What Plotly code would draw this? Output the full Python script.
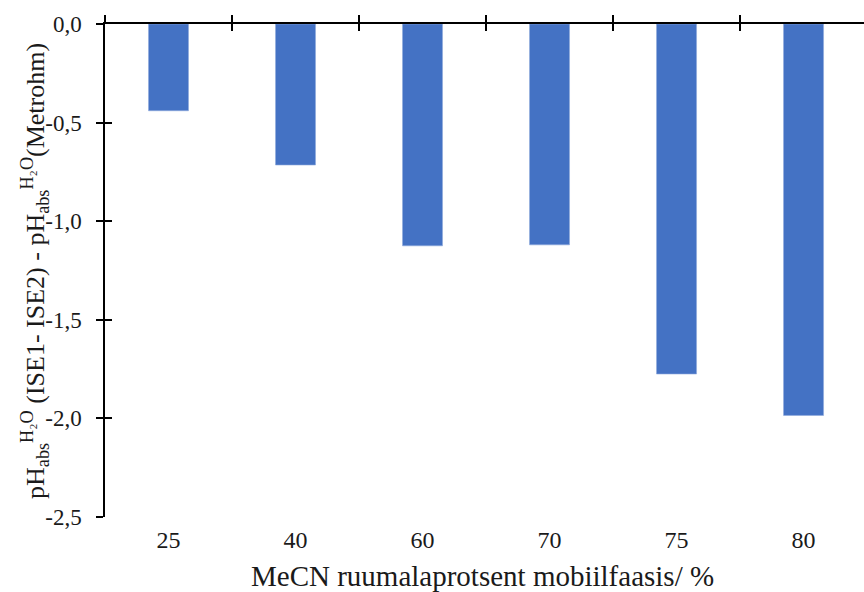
import plotly.graph_objects as go

# MeCN volume percent in the mobile phase
categories = ["25", "40", "60", "70", "75", "80"]
# pH difference: ISE1-ISE2 cell vs. Metrohm reference
values = [-0.44, -0.715, -1.125, -1.12, -1.775, -1.985]

y_tickvals = [0.0, -0.5, -1.0, -1.5, -2.0, -2.5]
y_ticktext = ["0,0", "-0,5", "-1,0", "-1,5", "-2,0", "-2,5"]

FONT = "Liberation Serif"
TXT = "#1a1a1a"
BAR = "#4472C4"

fig = go.Figure()
fig.add_trace(go.Bar(
    x=categories, y=values, xaxis="x", yaxis="y",
    marker=dict(color=BAR, line=dict(color="#8eaadb", width=0.6)),
    width=0.315, showlegend=False, hoverinfo="x+y",
))
# helper traces so the overlaid tick axes are drawn
fig.add_trace(go.Scatter(x=categories, y=[None] * 6, xaxis="x2", yaxis="y2",
                         showlegend=False, hoverinfo="skip"))
fig.add_trace(go.Scatter(x=categories, y=[None] * 6, xaxis="x3", yaxis="y2",
                         showlegend=False, hoverinfo="skip"))

xr = [-0.5, 5.476]
yr = [-2.5, 0.0]

fig.update_layout(
    width=864, height=592,
    margin=dict(l=105, r=0, t=24, b=75),
    paper_bgcolor="white", plot_bgcolor="white",
    font=dict(family=FONT, color=TXT),
    xaxis=dict(
        type="category", range=xr, side="bottom",
        showline=False, ticks="", showgrid=False, zeroline=False,
        tickfont=dict(size=24, family=FONT, color=TXT),
        ticklabelstandoff=6,
    ),
    xaxis2=dict(
        type="category", range=xr, overlaying="x", side="top",
        showline=True, linecolor="black", linewidth=1.5,
        tickson="boundaries", ticks="outside", ticklen=7, tickwidth=1.5,
        tickcolor="black", showticklabels=False, showgrid=False, zeroline=False,
    ),
    xaxis3=dict(
        type="category", range=xr, overlaying="x", side="top",
        showline=False, tickson="boundaries", ticks="inside", ticklen=7,
        tickwidth=1.5, tickcolor="black", showticklabels=False,
        showgrid=False, zeroline=False,
    ),
    yaxis=dict(
        range=yr, showline=True, linecolor="black", linewidth=1.5,
        ticks="outside", ticklen=7, tickwidth=1.5, tickcolor="black",
        tickmode="array", tickvals=y_tickvals, ticktext=y_ticktext,
        tickfont=dict(size=23, family=FONT, color=TXT),
        ticklabelstandoff=10,
        showgrid=False, zeroline=False,
    ),
    yaxis2=dict(
        range=yr, overlaying="y", side="left",
        showline=False, ticks="inside", ticklen=7, tickwidth=1.5,
        tickcolor="black", tickmode="array", tickvals=y_tickvals,
        showticklabels=False, showgrid=False, zeroline=False,
    ),
)

fig.add_annotation(
    text="MeCN ruumalaprotsent mobiilfaasis/ %",
    xref="paper", yref="paper", x=0.497, y=-0.12, xanchor="center", yanchor="middle",
    showarrow=False, font=dict(size=29, family=FONT, color=TXT),
)
fig.add_annotation(
    text="pH<sub>abs</sub><sup>H₂O</sup> (ISE1- ISE2) - pH<sub>abs</sub><sup>H₂O</sup>(Metrohm)",
    xref="paper", yref="paper", x=-0.093, y=0.5, xanchor="center", yanchor="middle",
    textangle=-90, showarrow=False, font=dict(size=26, family=FONT, color=TXT),
)

fig.write_html("out.html")
